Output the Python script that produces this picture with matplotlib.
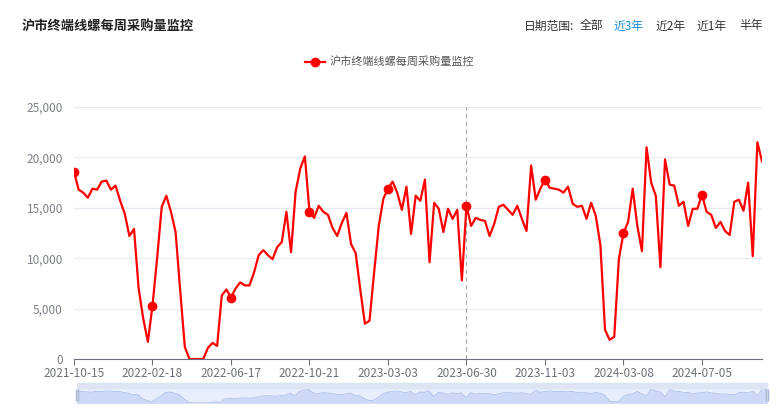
import numpy as np
import matplotlib.pyplot as plt
from matplotlib.lines import Line2D

plt.rcParams['font.family'] = ['Noto Sans CJK SC', 'DejaVu Sans']

title = "沪市终端线螺每周采购量监控"
tick_labels = ["2021-10-15", "2022-02-18", "2022-06-17", "2022-10-21", "2023-03-03",
               "2023-06-30", "2023-11-03", "2024-03-08", "2024-07-05"]
label_step = 17

values = [
    18600, 16800, 16500, 16000, 16900, 16800, 17600, 17700, 16800, 17200,
    15700, 14400, 12200, 12900, 7000, 4000, 1700, 5300, 10000, 15100,
    16200, 14600, 12600, 6800, 1200, 0, 0, 0, 0, 1100,
    1600, 1300, 6300, 6900, 6100, 7000, 7600, 7300, 7300, 8600,
    10300, 10800, 10300, 9900, 11100, 11600, 14600, 10600, 16600, 18900,
    20100, 14600, 14000, 15200, 14600, 14300, 13000, 12200, 13500, 14500,
    11400, 10500, 6900, 3500, 3800, 8600, 13200, 15900, 16900, 17600,
    16500, 14800, 17100, 12400, 16200, 15700, 17800, 9600, 15500, 14900,
    12600, 14900, 13900, 14800, 7800, 15200, 13200, 14000, 13800, 13700,
    12200, 13400, 15100, 15300, 14800, 14300, 15200, 13900, 12700, 19200,
    15800, 16900, 17800, 17000, 16900, 16800, 16500, 17100, 15400, 15100,
    15200, 13900, 15500, 14200, 11300, 2900, 1900, 2200, 9900, 12500,
    13600, 16900, 13200, 10700, 21000, 17500, 16200, 9100, 19800, 17300,
    17200, 15200, 15600, 13200, 14900, 14900, 16300, 14600, 14300, 13000,
    13600, 12700, 12300, 15600, 15800, 14700, 17500, 10200, 21500, 19600,
]

x = np.arange(len(values))
tick_pos = np.arange(0, len(values), label_step)[:len(tick_labels)]

fig = plt.figure(figsize=(7.78, 4.12), dpi=100)
ax = fig.add_axes([74 / 778, 1 - 359 / 412, 688 / 778, 252 / 412])

ax.plot(x, values, color='#ff0000', lw=1.6, zorder=3)
ax.plot(tick_pos, np.array(values)[tick_pos], 'o', color='#ff0000', ms=6, zorder=4)

# tooltip axis pointer
ax.axvline(tick_pos[5], color='#aaaaaa', lw=0.8, ls=(0, (4, 3)), zorder=2)

ax.set_xlim(0, len(values) - 1)
ax.set_ylim(0, 25000)
ax.set_yticks(range(0, 25001, 5000))
ax.set_yticklabels([f"{v:,}" for v in range(0, 25001, 5000)])
ax.set_xticks(tick_pos)
ax.set_xticklabels(tick_labels)
ax.tick_params(axis='y', length=0, colors='#7d8089', labelsize=8.5, pad=8)
ax.tick_params(axis='x', length=4, color='#6e7079', colors='#6e7079', labelsize=8.5, pad=2)
ax.grid(axis='y', color='#e6e9f0', lw=0.9)
ax.set_axisbelow(True)
for s in ['top', 'right', 'left']:
    ax.spines[s].set_visible(False)
ax.spines['bottom'].set_color('#6e7079')

# titles and range selector
fig.text(22 / 778, 1 - 26 / 412, title, fontsize=9.5, fontweight='bold', color='#222222', va='center')
opts = [("日期范围:", '#333333', 524), ("全部", '#333333', 580), ("近3年", '#1a8ad4', 614),
        ("近2年", '#333333', 656), ("近1年", '#333333', 697), ("半年", '#333333', 739)]
for txt, c, px in opts:
    fig.text(px / 778, 1 - 26 / 412, txt, fontsize=8.5, color=c, va='center')

handle = Line2D([], [], color='#ff0000', lw=1.6, marker='o', ms=6)
fig.legend([handle], [title], loc='center', bbox_to_anchor=(390 / 778, 1 - 62 / 412),
           frameon=False, fontsize=8, handlelength=1.8, handletextpad=0.4, labelcolor='#555555')

# data zoom slider
sl = fig.add_axes([77 / 778, 1 - 403 / 412, 690 / 778, 19 / 412])
sl.fill_between(x, values, 0, color='#cdd9f6', lw=0)
sl.plot(x, values, color='#adc0ec', lw=0.6)
sl.plot([0, len(values) - 1], [12000, 12000], '|', color='#a8b6d4', ms=9, mew=2.5, clip_on=False)
sl.set_xlim(0, len(values) - 1)
sl.set_ylim(0, 28000)
sl.set_facecolor('#e8eefb')
sl.set_xticks([])
sl.set_yticks([])
for s in sl.spines.values():
    s.set_color('#d2dbee')
    s.set_linewidth(0.6)
fig.patches.append(plt.Rectangle((77 / 778, 1 - 388 / 412), 690 / 778, 5 / 412,
                                 transform=fig.transFigure, color='#dde5f5', zorder=5))

fig.savefig('out.png', dpi=100)
